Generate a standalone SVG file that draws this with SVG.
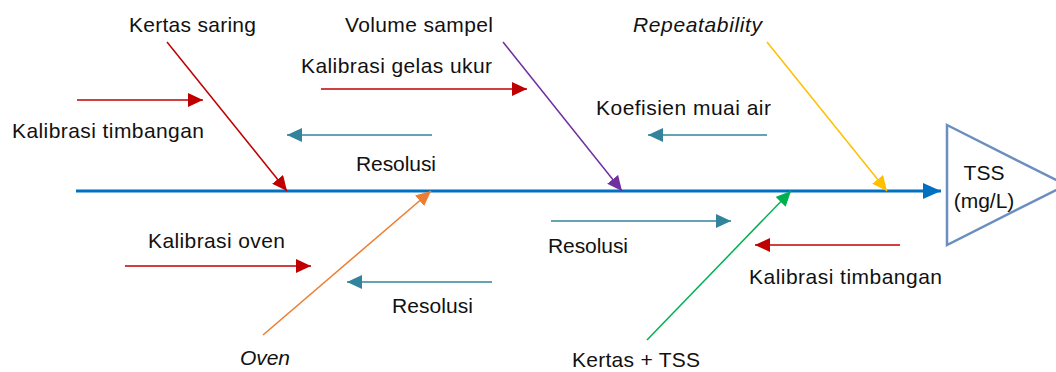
<svg xmlns="http://www.w3.org/2000/svg" width="1056" height="372" viewBox="0 0 1056 372">
<style>
text{font-family:"Liberation Sans",Arial,sans-serif;font-size:21px;fill:#111}
.it{font-style:italic}
.ln{fill:none;stroke-width:1.5}
.red{stroke:#c00000}.teal{stroke:#31849b}.pur{stroke:#7030a0}.yel{stroke:#ffc000}.grn{stroke:#00b050}.org{stroke:#ed7d31}
</style>
<defs>
<marker id="mRed" markerUnits="userSpaceOnUse" markerWidth="16" markerHeight="14" refX="15" refY="7" orient="auto"><path d="M0,0 L15,7 L0,14 z" fill="#c00000"/></marker>
<marker id="mTeal" markerUnits="userSpaceOnUse" markerWidth="16" markerHeight="14" refX="15" refY="7" orient="auto"><path d="M0,0 L15,7 L0,14 z" fill="#31849b"/></marker>
<marker id="mPur" markerUnits="userSpaceOnUse" markerWidth="16" markerHeight="14" refX="15" refY="7" orient="auto"><path d="M0,0 L15,7 L0,14 z" fill="#7030a0"/></marker>
<marker id="mYel" markerUnits="userSpaceOnUse" markerWidth="16" markerHeight="14" refX="15" refY="7" orient="auto"><path d="M0,0 L15,7 L0,14 z" fill="#ffc000"/></marker>
<marker id="mGrn" markerUnits="userSpaceOnUse" markerWidth="16" markerHeight="14" refX="15" refY="7" orient="auto"><path d="M0,0 L15,7 L0,14 z" fill="#00b050"/></marker>
<marker id="mOrg" markerUnits="userSpaceOnUse" markerWidth="16" markerHeight="14" refX="15" refY="7" orient="auto"><path d="M0,0 L15,7 L0,14 z" fill="#ed7d31"/></marker>
<marker id="mBlue" markerUnits="userSpaceOnUse" markerWidth="18" markerHeight="16" refX="18" refY="8" orient="auto"><path d="M0,0 L18,8 L0,16 z" fill="#0070c0"/></marker>
</defs>
<rect width="1056" height="372" fill="#fff"/>
<g id="connectors">
<line x1="76" y1="191" x2="941" y2="191" stroke="#0070c0" stroke-width="3" marker-end="url(#mBlue)"/>
<line class="ln red" x1="167" y1="42" x2="287" y2="191" marker-end="url(#mRed)"/>
<line class="ln pur" x1="503" y1="42" x2="622" y2="191" marker-end="url(#mPur)"/>
<line class="ln yel" x1="767" y1="42" x2="887" y2="191" marker-end="url(#mYel)"/>
<line class="ln org" x1="263" y1="335" x2="431" y2="191" marker-end="url(#mOrg)"/>
<line class="ln grn" x1="647" y1="340" x2="791" y2="191" marker-end="url(#mGrn)"/>
<line class="ln red" x1="77" y1="100" x2="203" y2="100" marker-end="url(#mRed)"/>
<line class="ln teal" x1="432" y1="135" x2="287" y2="135" marker-end="url(#mTeal)"/>
<line class="ln red" x1="321" y1="89" x2="527" y2="89" marker-end="url(#mRed)"/>
<line class="ln teal" x1="767" y1="135" x2="648" y2="135" marker-end="url(#mTeal)"/>
<line class="ln red" x1="125" y1="266" x2="311" y2="266" marker-end="url(#mRed)"/>
<line class="ln teal" x1="492" y1="282" x2="347" y2="282" marker-end="url(#mTeal)"/>
<line class="ln teal" x1="551" y1="221" x2="731" y2="221" marker-end="url(#mTeal)"/>
<line class="ln red" x1="900" y1="245" x2="755" y2="245" marker-end="url(#mRed)"/>
</g>
<g id="effect">
<polygon points="947,125 1066,185 947,245" fill="#fff" stroke="#6a8ec0" stroke-width="2.5"/>
<text x="984" y="180" text-anchor="middle">TSS</text>
<text x="984" y="208" text-anchor="middle">(mg/L)</text>
</g>
<g id="kertas-saring"><text x="129" y="32" textLength="127" lengthAdjust="spacing">Kertas saring</text></g>
<g id="volume-sampel"><text x="345" y="32" textLength="148" lengthAdjust="spacing">Volume sampel</text></g>
<g id="repeatability"><text class="it" x="633" y="32" textLength="129" lengthAdjust="spacing">Repeatability</text></g>
<g id="kalibrasi-gelas"><text x="301" y="73" textLength="191" lengthAdjust="spacing">Kalibrasi gelas ukur</text></g>
<g id="koefisien"><text x="596" y="115" textLength="175" lengthAdjust="spacing">Koefisien muai air</text></g>
<g id="kalibrasi-timbangan-1"><text x="12" y="138" textLength="192" lengthAdjust="spacing">Kalibrasi timbangan</text></g>
<g id="resolusi-1"><text x="356" y="171" textLength="80" lengthAdjust="spacing">Resolusi</text></g>
<g id="kalibrasi-oven"><text x="148" y="248" textLength="137" lengthAdjust="spacing">Kalibrasi oven</text></g>
<g id="resolusi-2"><text x="392" y="313" textLength="81" lengthAdjust="spacing">Resolusi</text></g>
<g id="oven"><text class="it" x="240" y="365" textLength="50" lengthAdjust="spacing">Oven</text></g>
<g id="resolusi-3"><text x="548" y="253" textLength="80" lengthAdjust="spacing">Resolusi</text></g>
<g id="kalibrasi-timbangan-2"><text x="749" y="284" textLength="193" lengthAdjust="spacing">Kalibrasi timbangan</text></g>
<g id="kertas-tss"><text x="572" y="367" textLength="128" lengthAdjust="spacing">Kertas + TSS</text></g>
</svg>
